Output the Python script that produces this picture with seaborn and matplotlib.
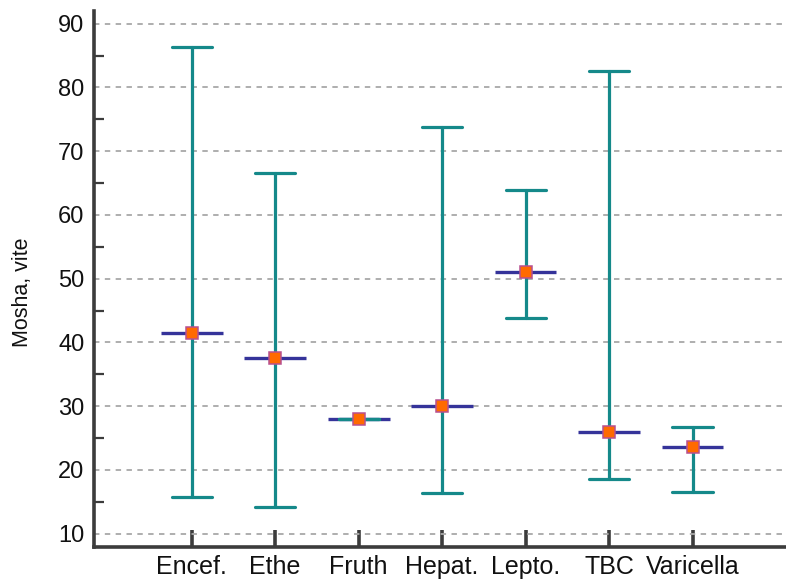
import matplotlib
matplotlib.use("Agg")
import matplotlib.pyplot as plt
import seaborn as sns
import pandas as pd
import numpy as np
from matplotlib.ticker import MultipleLocator

# Age summary per diagnosis: mean with min-max range
categories = ["Encef.", "Ethe", "Fruth", "Hepat.", "Lepto.", "TBC", "Varicella"]
mean_age = [41.5, 37.6, 28.0, 30.0, 51.1, 26.0, 23.6]
min_age = [15.8, 14.1, 28.0, 16.4, 43.9, 18.6, 16.5]
max_age = [86.3, 66.5, 28.0, 73.8, 63.9, 82.6, 26.7]
y_ticks = [10, 20, 30, 40, 50, 60, 70, 80, 90]

teal = "#15898a"
navy = "#35339a"
orange = "#ff6a00"
edge = "#b8508f"
spine_col = "#3c3c3c"

# long-form table: the median of (min, mean, max) is the mean,
# and the min-max spread gives the whisker
df = pd.DataFrame({
    "cat": np.repeat(categories, 3),
    "age": np.column_stack([min_age, mean_age, max_age]).ravel(),
})

sns.set_theme(style="white")
plt.rcParams["font.family"] = ["Liberation Sans", "DejaVu Sans"]

fig = plt.figure(figsize=(7.86, 5.86), dpi=100)
ax = fig.add_axes([0.1196, 0.0666, 0.8804, 0.9147])

# blue mean bars underneath
x_pos = np.arange(len(categories))
ax.hlines(mean_age, x_pos - 0.37, x_pos + 0.37, colors=navy, linewidth=2.4, zorder=1)

sns.pointplot(
    data=df, x="cat", y="age", order=categories,
    estimator="median",
    errorbar=lambda v: (v.min(), v.max()),
    capsize=0.48,
    linestyles="none",
    markers="s",
    color=orange,
    markersize=8.5,
    markeredgecolor=edge,
    markeredgewidth=1.1,
    err_kws={"color": teal, "linewidth": 2.3, "zorder": 2},
    ax=ax,
)
for ln in ax.lines:
    if ln.get_marker() == "s":
        ln.set_zorder(4)

ax.set_xlim(-1.17, 7.12)
ax.set_ylim(7.9, 92.0)
ax.set_yticks(y_ticks)
ax.yaxis.set_minor_locator(MultipleLocator(5))
ax.set_xlabel("")
ax.set_ylabel("Mosha, vite", fontsize=15.5, color="#111111")
ax.yaxis.set_label_coords(-0.088, 0.476)

ax.grid(axis="y", which="major", color="#a8a8a8", linestyle=(0, (3, 3)), linewidth=1.3, zorder=0)
ax.set_axisbelow(True)

for side in ["top", "right"]:
    ax.spines[side].set_visible(False)
for side in ["left", "bottom"]:
    ax.spines[side].set_color(spine_col)
    ax.spines[side].set_linewidth(2.6)

ax.tick_params(axis="y", which="major", direction="in", length=14, width=2.6,
               color=spine_col, labelsize=17, pad=7, labelcolor="#111111")
ax.tick_params(axis="y", which="minor", direction="in", length=7, width=1.6,
               color=spine_col, left=True)
ax.tick_params(axis="x", which="major", direction="in", length=12, width=2.6,
               color=spine_col, labelsize=18, pad=6, labelcolor="#111111", bottom=True)

fig.savefig("out.png", dpi=100, facecolor="white")
